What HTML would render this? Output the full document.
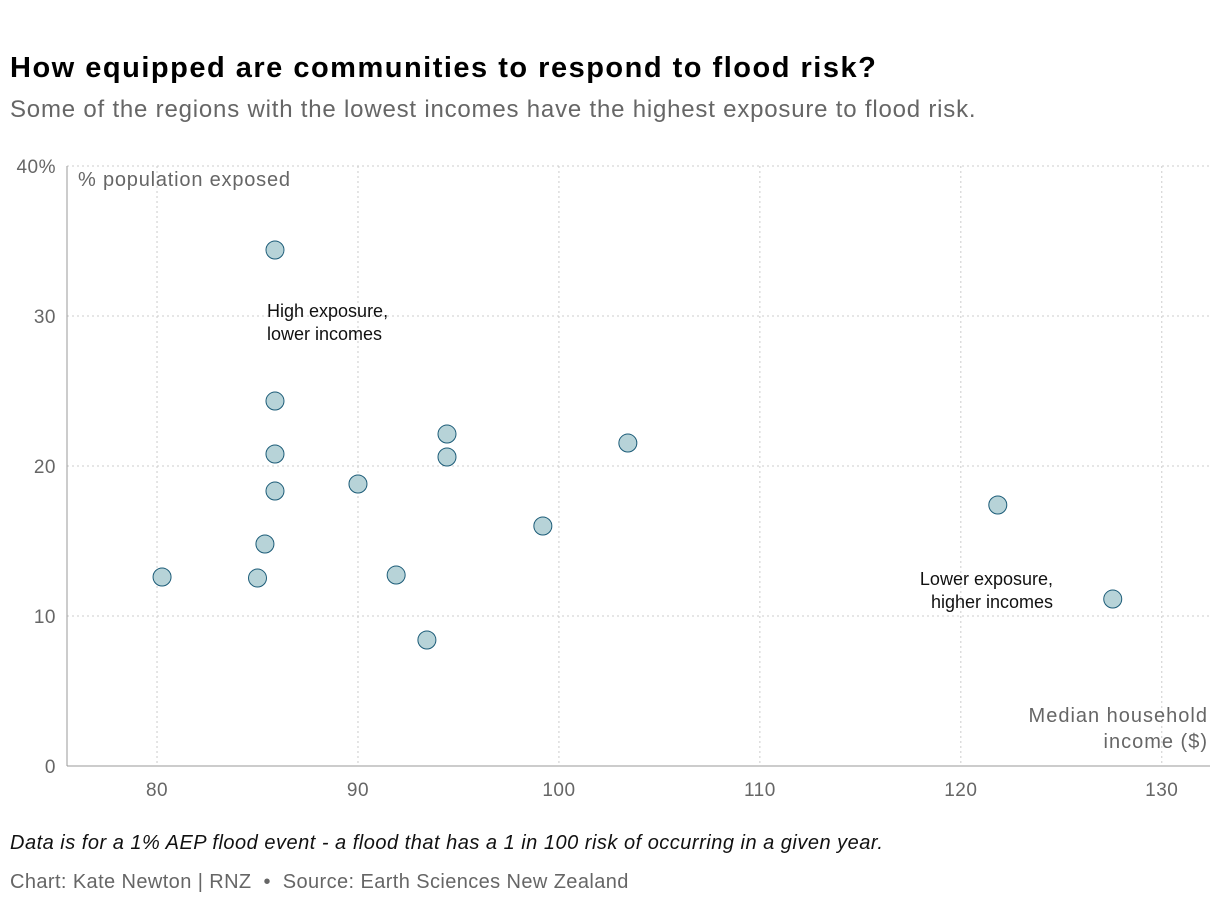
<!DOCTYPE html>
<html><head><meta charset="utf-8">
<style>
body{margin:0;background:#fff;font-family:"Liberation Sans",sans-serif;}
#wrap{position:relative;width:1220px;height:910px;overflow:hidden;}
h1{position:absolute;left:10px;top:54px;margin:0;font-size:29px;font-weight:bold;color:#000;letter-spacing:1.5px;line-height:1;white-space:nowrap;}
.sub{position:absolute;left:10px;top:96px;font-size:24px;color:#666;letter-spacing:0.8px;white-space:nowrap;}
.note{position:absolute;left:10px;top:832px;font-size:20px;font-style:italic;color:#111;letter-spacing:0.5px;white-space:nowrap;}
.src{position:absolute;left:10px;top:871px;font-size:20px;color:#666;letter-spacing:0.4px;white-space:nowrap;}
svg{position:absolute;left:0;top:0;}
</style></head><body>
<div id="wrap">
<h1>How equipped are communities to respond to flood risk?</h1>
<div class="sub">Some of the regions with the lowest incomes have the highest exposure to flood risk.</div>
<svg id="chart" width="1220" height="910"></svg>
<div class="note">Data is for a 1% AEP flood event - a flood that has a 1 in 100 risk of occurring in a given year.</div>
<div class="src">Chart: Kate Newton | RNZ &nbsp;•&nbsp; Source: Earth Sciences New Zealand</div>
</div>
<script>
const incomes=[85.87,85.87,85.87,85.87,90,85.37,80.25,85.0,91.9,93.43,94.43,94.43,99.2,103.43,121.84,127.56];
const exposure=[34.4,24.33,20.8,18.33,18.8,14.8,12.6,12.53,12.73,8.4,22.13,20.6,16.0,21.53,17.4,11.13];
const xTicks=[80,90,100,110,120,130];
const yTicks=[0,10,20,30,40];
const NS="http://www.w3.org/2000/svg";
const svg=document.getElementById('chart');
const xMin=75.52,xMax=132.4,yMin=0,yMax=40;
const L=67,R=1210,T=166,B=766;
const xs=v=>L+(v-xMin)/(xMax-xMin)*(R-L);
const ys=v=>B-(v-yMin)/(yMax-yMin)*(B-T);
function mk(tag,attrs){const e=document.createElementNS(NS,tag);for(const k in attrs)e.setAttribute(k,attrs[k]);svg.appendChild(e);return e;}
xTicks.forEach(t=>{
 const g=mk('line',{x1:xs(t),x2:xs(t),y1:T,y2:B,stroke:'#ccc','stroke-dasharray':'2,3'});
 
 
 const tx=mk('text',{x:xs(t),y:B+30,'text-anchor':'middle','font-size':19,'letter-spacing':0.5,fill:'#666','font-family':'Liberation Sans, sans-serif'});
 tx.textContent=t;
 
 
});
yTicks.forEach(t=>{
 if(t>0){const g=mk('line',{x1:L,x2:R,y1:ys(t),y2:ys(t),stroke:'#ccc','stroke-dasharray':'2,3'});
 
 }
 const tx=mk('text',{x:56,y:ys(t)+7,'text-anchor':'end','font-size':19,'letter-spacing':0.5,fill:'#666','font-family':'Liberation Sans, sans-serif'});
 tx.textContent=t===40?'40%':t;
 
 
});
const ya=mk('line',{x1:L,x2:L,y1:T,y2:B,stroke:'#999'});


const xa=mk('line',{x1:L,x2:R,y1:B,y2:B,stroke:'#999'});


function txt(s,x,y,anchor,fill,name,fs,ls){const t=mk('text',{x:x,y:y,'text-anchor':anchor,'font-size':fs,'letter-spacing':ls,fill:fill,'font-family':'Liberation Sans, sans-serif'});t.textContent=s;
 
 return t;}
txt('% population exposed',78,186,'start','#666','y-axis-title',20,0.8);
txt('Median household',1208,722,'end','#666','x-axis-title',20,1);
txt('income ($)',1208,748,'end','#666','x-axis-title-line2',20,1);
txt('High exposure,',267,317,'start','#111','annotation-high-exposure',18,0);
txt('lower incomes',267,340,'start','#111','annotation-high-exposure-line2',18,0);
txt('Lower exposure,',1053,585,'end','#111','annotation-low-exposure',18,0);
txt('higher incomes',1053,608,'end','#111','annotation-low-exposure-line2',18,0);
incomes.forEach((v,i)=>{
 const c=mk('circle',{cx:xs(v),cy:ys(exposure[i]),r:9,fill:'#b7d3d8',stroke:'#1c5c78','stroke-width':1});
 
 
});
</script>
</body></html>
